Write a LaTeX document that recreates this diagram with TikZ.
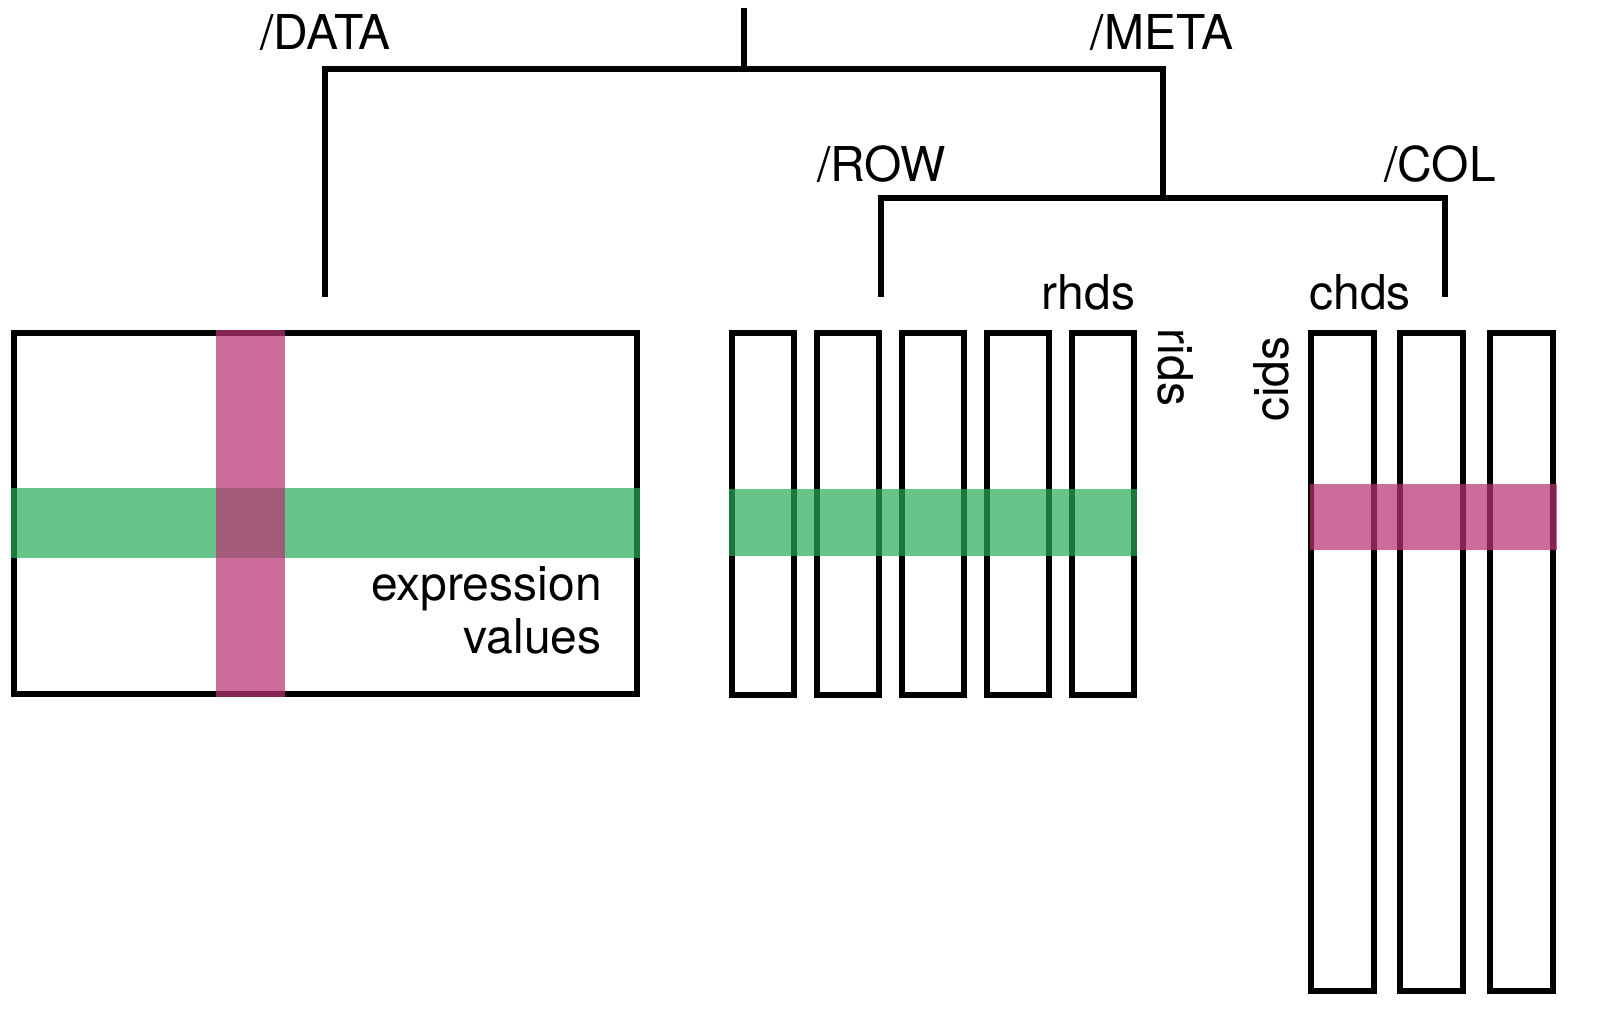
\documentclass[tikz,border=0pt]{standalone}
\usepackage{fontspec}
\setmainfont{TeX Gyre Heros}
\definecolor{bandpink}{RGB}{185,51,115}
\definecolor{bandgreen}{RGB}{41,171,87}
\begin{document}
\begin{tikzpicture}[x=1.0215pt,y=-1.0215pt,
  lbl/.style={font=\fontsize{48}{54}\selectfont, inner sep=0pt, outer sep=0pt},
  box/.style={draw=black, line width=6pt, inner sep=0pt, outer sep=0pt, rectangle},
  tree/.style={line width=6pt, line cap=butt, line join=miter},
  pinkband/.style={fill=bandpink, fill opacity=0.72},
  greenband/.style={fill=bandgreen, fill opacity=0.7}]
\useasboundingbox (0,0) rectangle (1564.4,1004.4);

% boxes
\node[box, minimum width=623pt, minimum height=361pt] (data) at (319,502.5) {};
\foreach \i/\cx in {1/747,2/830,3/913.5,4/996.5,5/1080}
  \node[box, minimum width=62pt, minimum height=362pt] (row\i) at (\cx,503) {};
\foreach \i/\cx in {1/1314.5,2/1401.5,3/1489}
  \node[box, minimum width=63pt, minimum height=658pt] (col\i) at (\cx,648) {};

% tree coordinates
\coordinate (root) at (728,8);
\coordinate (rootj) at (728,68);
\coordinate (dataend) at (318,291);
\coordinate (metaj) at (1139,68);
\coordinate (metab) at (1139,194);
\coordinate (rowend) at (862,291);
\coordinate (colend) at (1415,291);

\draw[tree] (root) -- (rootj);
\draw[tree] (dataend) |- (metaj) -- (metab);
\draw[tree] (rowend) |- (metab) -| (colend);

% labels
\node[lbl, anchor=base west] (ldata) at (255,48) {/DATA};
\node[lbl, anchor=base west] (lmeta) at (1068,48) {/META};
\node[lbl, anchor=base west] (lrow) at (800,178) {/ROW};
\node[lbl, anchor=base west] (lcol) at (1355,178) {/COL};
\node[lbl, anchor=base west] (lrhds) at (1020,303) {rhds};
\node[lbl, anchor=base west] (lchds) at (1282,303) {chds};
\node[lbl, anchor=base west, rotate=-90] (lrids) at (1134,322) {rids};
\node[lbl, anchor=base west, rotate=90] (lcids) at (1261,413) {cids};
\node[lbl, anchor=base east] (lexp) at (589,588) {expression};
\node[lbl, anchor=base east] (lval) at (589,640) {values};

% bands
\fill[greenband] (11,478) rectangle (627,546);
\fill[greenband] (714,479) rectangle (1113,544);
\fill[pinkband] (211,323) rectangle (279,682);
\fill[pinkband] (1282,474) rectangle (1524,538);
\end{tikzpicture}
\end{document}
